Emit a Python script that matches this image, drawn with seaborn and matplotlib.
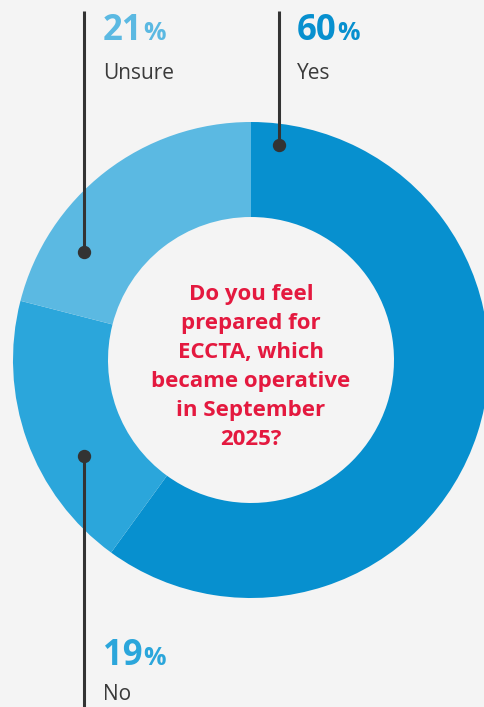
import matplotlib
matplotlib.use("Agg")
import matplotlib.pyplot as plt
import seaborn as sns

# ---- data ----
categories = ["Yes", "No", "Unsure"]
values = [60, 19, 21]
pct_labels = ["60", "19", "21"]
colors_hex = ["#0790cf", "#2ba6db", "#5bb9e2"]
question_lines = ["Do you feel", "prepared for", "ECCTA, which",
                  "became operative", "in September", "2025?"]

W, H = 485, 707
BG = "#f4f4f4"
sns.set_theme(style="white")
plt.rcParams['font.family'] = ['Open Sans', 'DejaVu Sans']
palette = sns.color_palette(colors_hex)

fig = plt.figure(figsize=(W / 100, H / 100), dpi=100, facecolor=BG)
ax = fig.add_axes([0, 0, 1, 1])
ax.set_facecolor(BG)

cx, cy, r_out, r_in = 251, 360, 238, 143
ax.pie(values, colors=palette, startangle=-90, counterclock=True,
       center=(cx, cy), radius=r_out, frame=True,
       wedgeprops=dict(width=r_out - r_in, edgecolor="none", linewidth=0))
ax.set_xlim(0, W)
ax.set_ylim(H, 0)
ax.set_aspect("equal")
ax.axis("off")

LINE = "#333333"
TXT = "#3a3a3a"
lw = 2.2
ms = 8.6
# leader lines: (x, y_top, y_bottom, dot_y)
leaders = {
    "Yes": (279, 11, 145, 145),
    "Unsure": (84, 11, 252, 252),
    "No": (84, 456, H, 456),
}
# label anchors: (x, number baseline, name baseline)
anchors = {
    "Yes": (297, 40.5, 79),
    "Unsure": (103, 40.5, 79),
    "No": (103, 665, 700),
}
for cat, pct, col in zip(categories, pct_labels, palette):
    x, y0, y1, dy = leaders[cat]
    ax.plot([x, x], [y0, y1], color=LINE, lw=lw, solid_capstyle="butt", zorder=3)
    ax.plot([x], [dy], "o", color=LINE, ms=ms, zorder=4)
    tx, nb, lb = anchors[cat]
    t = ax.text(tx, nb, pct, fontsize=25, fontweight="bold", color=col,
                ha="left", va="baseline")
    ax.annotate("%", xy=(1, nb), xycoords=(t, ax.transData), xytext=(0.5, 0),
                textcoords="offset points", fontsize=18, fontweight="bold",
                color=col, ha="left", va="baseline")
    ax.text(tx, lb, cat, fontsize=15, color=TXT, ha="left", va="baseline")

RED = "#e4193f"
for i, line in enumerate(question_lines):
    ax.text(cx, 300 + 29 * i, line, fontsize=16, fontweight="bold",
            color=RED, ha="center", va="baseline")

fig.savefig("out.png", dpi=100, facecolor=BG)
